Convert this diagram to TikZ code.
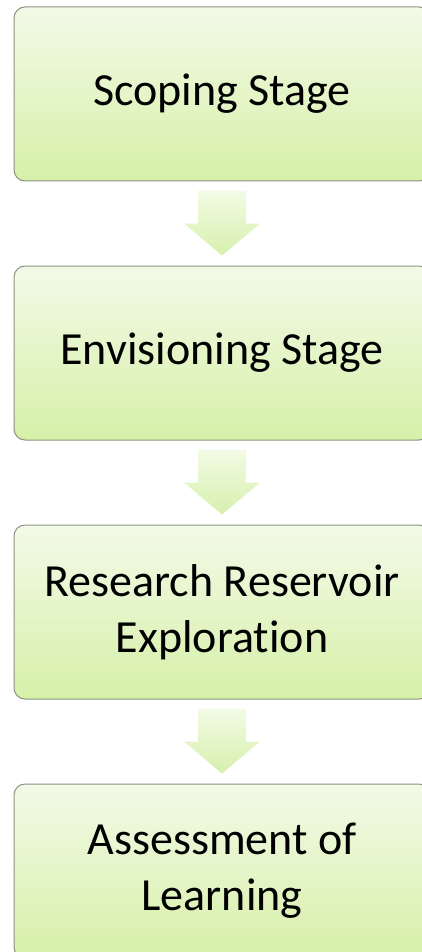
\documentclass[tikz,border=0pt]{standalone}
\usepackage{fontspec}
\setmainfont[Ligatures=NoCommon]{Carlito}
\usetikzlibrary{trees,calc}
\definecolor{boxtop}{RGB}{243,250,232}
\definecolor{boxbot}{RGB}{214,240,168}
\definecolor{boxline}{RGB}{138,148,128}
\definecolor{arrtop}{RGB}{243,251,230}
\definecolor{arrbot}{RGB}{214,240,172}

\begin{document}
\begin{tikzpicture}[grow=down,level distance=259pt,
stagebox/.style={draw=boxline,line width=1pt,rounded corners=11pt,top color=boxtop,bottom color=boxbot,
  minimum width=416pt,minimum height=174pt,inner sep=0pt,align=center,font=\fontsize{46}{56}\selectfont},
edge from parent/.style={draw=none,top color=arrtop,bottom color=arrbot},
edge from parent path={($(\tikzparentnode.south)+(-24pt,-9pt)$) -- ($(\tikzparentnode.south)+(24pt,-9pt)$)
  -- ($(\tikzchildnode.north)+(24pt,42pt)$) -- ($(\tikzchildnode.north)+(38pt,42pt)$)
  -- ($(\tikzchildnode.north)+(0pt,10pt)$) -- ($(\tikzchildnode.north)+(-38pt,42pt)$)
  -- ($(\tikzchildnode.north)+(-24pt,42pt)$) -- cycle}]
\useasboundingbox (0,0) rectangle (421pt,-952pt);
\node[stagebox] (scoping) at (222pt,-94pt) {Scoping Stage}
child {node[stagebox] (envisioning) {Envisioning Stage}
	child {node[stagebox] (reservoir) {Research Reservoir\\Exploration}
		child {node[stagebox] (assessment) {Assessment of\\Learning}}}};
\end{tikzpicture}
\end{document}
